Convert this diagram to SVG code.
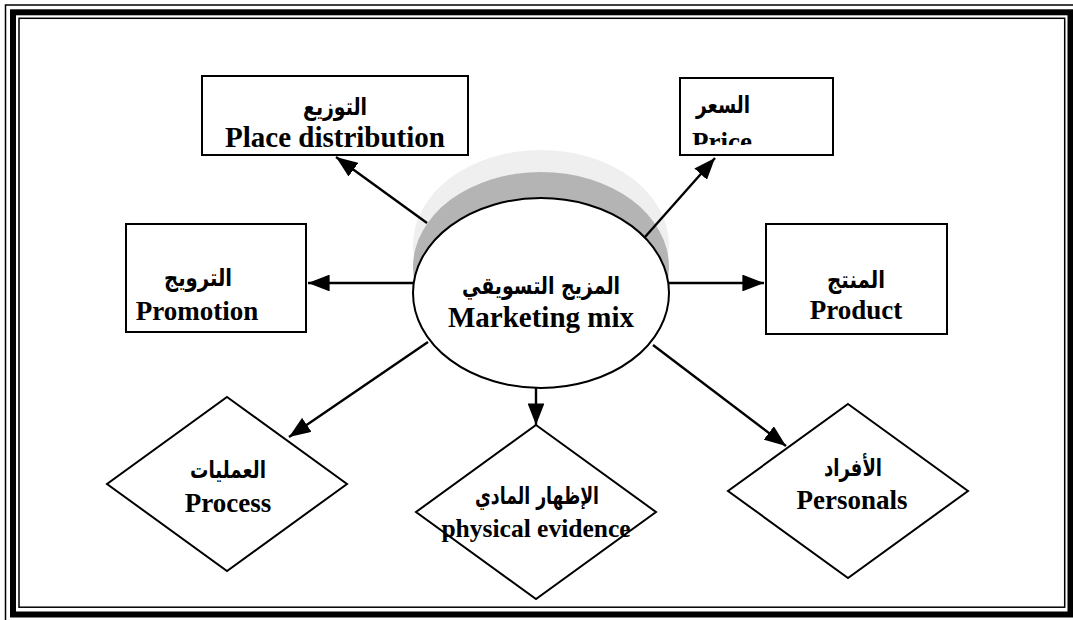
<svg xmlns="http://www.w3.org/2000/svg" width="1073" height="620" viewBox="0 0 1073 620">
<style>
.box{fill:#fff;stroke:#000;stroke-width:2}
.en{font-family:"Liberation Serif","Times New Roman",serif;font-weight:bold;font-size:27px;fill:#000;text-anchor:middle}
.ar{font-family:"DejaVu Sans","Noto Sans",sans-serif;font-weight:bold;font-size:24px;fill:#000;text-anchor:middle}
.con{stroke:#000;stroke-width:2.4;fill:none;marker-end:url(#ah)}
</style>
<defs>
<marker id="ah" markerWidth="9" markerHeight="7" refX="9" refY="3.5" orient="auto" markerUnits="strokeWidth">
<path d="M0,0 L9,3.5 L0,7 z" fill="#000"/>
</marker>
<clipPath id="priceclip"><rect x="680" y="78" width="153" height="67"/></clipPath>
</defs>
<rect width="1073" height="620" fill="#fff"/>
<g id="frame" fill="none" stroke="#000">
<rect x="5.5" y="5" width="1080" height="625" stroke-width="1.5"/>
<rect x="13" y="12.3" width="1057.5" height="602.2" stroke-width="6"/>
<rect x="19" y="18.3" width="1045.7" height="588.9" stroke-width="1.5"/>
</g>
<g id="center">
<ellipse cx="541" cy="245" rx="128" ry="95" fill="#efefef"/>
<ellipse cx="541" cy="267" rx="128" ry="95" fill="#b4b4b4"/>
<ellipse cx="541" cy="293" rx="128" ry="95" fill="#fff" stroke="#000" stroke-width="2"/>
<text class="ar" x="541" y="294" textLength="158" lengthAdjust="spacingAndGlyphs">المزيج التسويقي</text>
<text class="en" x="541" y="327" style="font-size:29px">Marketing mix</text>
</g>
<g id="connectors">
<line class="con" x1="427" y1="223" x2="336" y2="157"/>
<line class="con" x1="645" y1="237" x2="715" y2="158"/>
<line class="con" x1="413" y1="283" x2="308" y2="283"/>
<line class="con" x1="669" y1="283" x2="764" y2="283"/>
<line class="con" x1="428" y1="342" x2="289" y2="437"/>
<line class="con" x1="536" y1="388" x2="536" y2="425"/>
<line class="con" x1="653" y1="345" x2="786" y2="446"/>
</g>
<g id="place">
<rect class="box" x="202" y="76" width="266" height="79"/>
<text class="ar" x="335" y="115" textLength="64" lengthAdjust="spacingAndGlyphs">التوزيع</text>
<text class="en" x="335" y="147" style="font-size:29px">Place distribution</text>
</g>
<g id="price">
<rect class="box" x="680" y="78" width="153" height="77"/>
<text class="ar" x="723" y="113" textLength="54" lengthAdjust="spacingAndGlyphs">السعر</text>
<text class="en" x="722" y="151" clip-path="url(#priceclip)">Price</text>
</g>
<g id="promotion">
<rect class="box" x="126" y="224" width="180" height="108"/>
<text class="ar" x="198" y="286" textLength="68" lengthAdjust="spacingAndGlyphs">الترويج</text>
<text class="en" x="197" y="320">Promotion</text>
</g>
<g id="product">
<rect class="box" x="766" y="224" width="181" height="110"/>
<text class="ar" x="856" y="288" textLength="58" lengthAdjust="spacingAndGlyphs">المنتج</text>
<text class="en" x="856" y="319">Product</text>
</g>
<g id="process">
<polygon class="box" points="227,397 347,484 227,571 107,484"/>
<text class="ar" x="228" y="478" textLength="76" lengthAdjust="spacingAndGlyphs">العمليات</text>
<text class="en" x="228" y="512">Process</text>
</g>
<g id="evidence">
<polygon class="box" points="536,425 656,512 536,599 416,512"/>
<text class="ar" x="537" y="504" textLength="124" lengthAdjust="spacingAndGlyphs">الإظهار المادي</text>
<text class="en" x="536" y="537" style="font-size:25.5px">physical evidence</text>
</g>
<g id="personals">
<polygon class="box" points="848,404 968,491 848,578 728,491"/>
<text class="ar" x="853" y="476" textLength="58" lengthAdjust="spacingAndGlyphs">الأفراد</text>
<text class="en" x="852" y="509">Personals</text>
</g>
</svg>
